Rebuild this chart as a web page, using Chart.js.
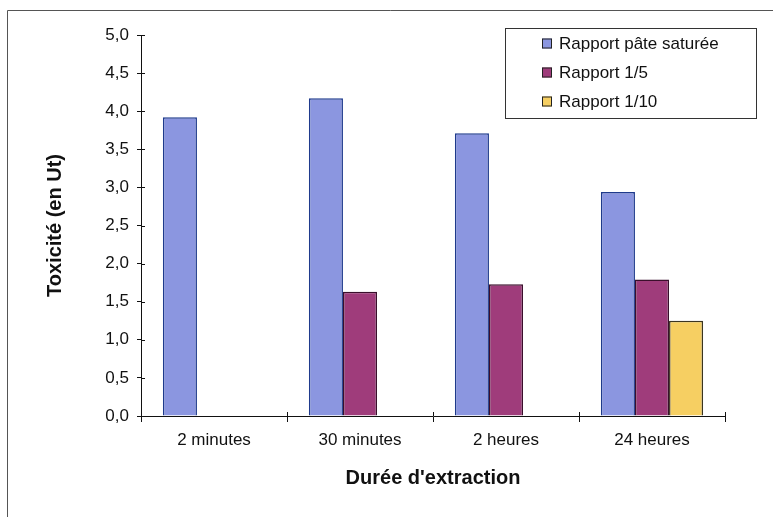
<!DOCTYPE html>
<html>
<head>
<meta charset="utf-8">
<script src="https://cdn.jsdelivr.net/npm/chart.js@4/dist/chart.umd.min.js"></script>
<style>
  html, body { margin: 0; padding: 0; background: #fff; }
  #wrap { width: 773px; height: 517px; position: relative; }
</style>
</head>
<body>
<div id="wrap"><canvas id="chart"></canvas></div>
<script>
// Extraction durations and toxicity measured for each ratio
const categories = ['2 minutes', '30 minutes', '2 heures', '24 heures'];
const seriesNames = ['Rapport pâte saturée', 'Rapport 1/5', 'Rapport 1/10'];
const pateSaturee = [3.92, 4.17, 3.71, 2.94];
const rapport15 = [null, 1.63, 1.73, 1.79];
const rapport110 = [null, null, null, 1.25];
const yMin = 0;
const yMax = 5;
const yStep = 0.5;

const fills = ['#8b96e0', '#9f3c7b', '#f6cf62'];
const edges = ['#1e3a8c', '#3a0f2c', '#3b3520'];
const FONT = '"Liberation Sans", Arial, sans-serif';

const fmt = v => v.toFixed(1).replace('.', ',');

// Outer frame, inner halves of the crossing tick marks, and the boxed legend
const decorations = {
  id: 'decorations',
  beforeDraw(chart) {
    const ctx = chart.ctx;
    ctx.save();
    ctx.strokeStyle = '#555';
    ctx.lineWidth = 1;
    ctx.beginPath();
    ctx.moveTo(7.5, 517);
    ctx.lineTo(7.5, 10.5);
    ctx.lineTo(773, 10.5);
    ctx.stroke();
    ctx.restore();
  },
  afterDraw(chart) {
    const ctx = chart.ctx;
    const area = chart.chartArea;
    const ys = chart.scales.y;
    const xs = chart.scales.x;
    ctx.save();
    ctx.strokeStyle = '#111';
    ctx.lineWidth = 1;
    ctx.beginPath();
    ys.ticks.forEach(t => {
      const py = Math.round(ys.getPixelForValue(t.value)) + 0.5;
      ctx.moveTo(area.left, py);
      ctx.lineTo(area.left + 4, py);
    });
    const n = categories.length;
    for (let i = 0; i <= n; i++) {
      const px = Math.round(xs.getPixelForValue(i - 0.5)) + 0.5;
      ctx.moveTo(px, area.bottom);
      ctx.lineTo(px, area.bottom - 4);
    }
    ctx.stroke();

    // legend box
    const bx = 505.5, by = 28.5, bw = 251, bh = 90;
    ctx.strokeStyle = '#333';
    ctx.strokeRect(bx, by, bw, bh);
    ctx.font = '17px ' + FONT;
    ctx.textBaseline = 'middle';
    chart.data.datasets.forEach((ds, i) => {
      const cy = 43 + i * 29;
      ctx.fillStyle = ds.backgroundColor;
      ctx.fillRect(542, cy - 4.5, 10, 10);
      ctx.strokeStyle = '#222';
      ctx.strokeRect(542.5, cy - 4, 9, 9);
      ctx.fillStyle = '#111';
      ctx.fillText(ds.label, 559, cy + 1);
    });
    ctx.restore();
  }
};

const dataset = (i, values) => ({
  label: seriesNames[i],
  data: values,
  backgroundColor: fills[i],
  borderColor: edges[i],
  borderWidth: 1.5,
  categoryPercentage: 0.7,
  barPercentage: 1.0
});

new Chart(document.getElementById('chart'), {
  type: 'bar',
  data: {
    labels: categories,
    datasets: [dataset(0, pateSaturee), dataset(1, rapport15), dataset(2, rapport110)]
  },
  options: {
    responsive: true,
    maintainAspectRatio: false,
    animation: false,
    layout: { padding: { top: 35, right: 48, left: 0, bottom: 0 } },
    plugins: {
      legend: { display: false },
      tooltip: { enabled: false }
    },
    scales: {
      x: {
        afterFit(scale) { scale.height = 101; },
        border: { display: true, color: '#111', width: 1 },
        grid: { display: true, drawOnChartArea: false, drawTicks: true, tickLength: 6, color: '#111', offset: true },
        ticks: { color: '#111', padding: 8, font: { family: FONT, size: 17 } },
        title: {
          display: true,
          text: "Durée d'extraction",
          color: '#111',
          padding: { top: 0, bottom: 27 },
          font: { family: FONT, size: 20, weight: 'bold' }
        }
      },
      y: {
        min: yMin,
        max: yMax,
        afterFit(scale) { scale.width = 141; },
        border: { display: true, color: '#111', width: 1 },
        grid: { display: true, drawOnChartArea: false, drawTicks: true, tickLength: 4, color: '#111' },
        ticks: {
          stepSize: yStep,
          color: '#111',
          padding: 8,
          font: { family: FONT, size: 17 },
          callback: v => fmt(v)
        },
        title: {
          display: true,
          text: 'Toxicité (en Ut)',
          color: '#111',
          padding: { top: 43, bottom: 0 },
          font: { family: FONT, size: 20, weight: 'bold' }
        }
      }
    }
  },
  plugins: [decorations]
});
</script>
</body>
</html>
